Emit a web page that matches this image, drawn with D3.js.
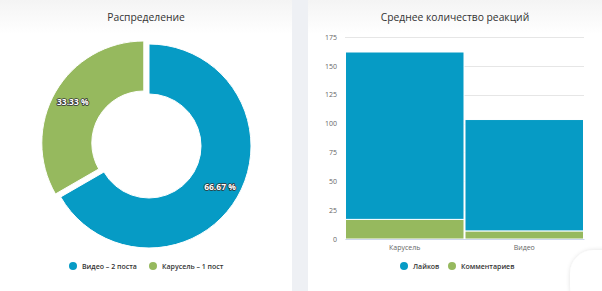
<!DOCTYPE html>
<html>
<head>
<meta charset="utf-8">
<script src="https://cdn.jsdelivr.net/npm/d3@7"></script>
<style>
  html, body { margin: 0; padding: 0; background: #eef0f4; }
  svg { display: block; font-family: "Open Sans", sans-serif; }
</style>
</head>
<body>
<div class="visualisation"></div>
<script>
var width = 602;
var height = 291;

// pie data
var pieNames = ["Видео – 2 поста", "Карусель – 1 пост"];
var pieValues = [66.67, 33.33];
var pieColors = ["#069bc5", "#96b95e"];

// bar data
var barCategories = ["Карусель", "Видео"];
var likes = [145, 96.5];
var comments = [17, 7];
var barSeries = ["Лайков", "Комментариев"];
var barTicks = [0, 25, 50, 75, 100, 125, 150, 175];

var svg = d3.select(".visualisation").append("svg")
    .attr("width", width)
    .attr("height", height);

var defs = svg.append("defs");
var grad = defs.append("linearGradient").attr("id", "hdr").attr("x1", 0).attr("y1", 0).attr("x2", 0).attr("y2", 1);
grad.append("stop").attr("offset", "0%").attr("stop-color", "#f4f4f4");
grad.append("stop").attr("offset", "100%").attr("stop-color", "#ffffff");
var shadow = defs.append("filter").attr("id", "sh").attr("x", "-50%").attr("y", "-50%").attr("width", "200%").attr("height", "200%");
shadow.append("feDropShadow").attr("dx", 0).attr("dy", 0).attr("stdDeviation", 2).attr("flood-color", "#000").attr("flood-opacity", 0.12);

// cards
svg.append("rect").attr("x", 0).attr("y", 0).attr("width", 292).attr("height", height).attr("fill", "#fff");
svg.append("rect").attr("x", 0).attr("y", 0).attr("width", 292).attr("height", 34).attr("fill", "url(#hdr)");
svg.append("rect").attr("x", 308).attr("y", 0).attr("width", 294).attr("height", height).attr("fill", "#fff");
svg.append("rect").attr("x", 308).attr("y", 0).attr("width", 294).attr("height", 34).attr("fill", "url(#hdr)");

// titles
svg.append("text").attr("x", 146).attr("y", 21).attr("text-anchor", "middle")
  .attr("font-size", 10.3).attr("fill", "#333").text("Распределение");
svg.append("text").attr("x", 455).attr("y", 21).attr("text-anchor", "middle")
  .attr("font-size", 10.3).attr("fill", "#333").text("Среднее количество реакций");

// donut
var cx = 149, cy = 146, outerR = 102, innerR = 52;
var pie = d3.pie().sort(null).value(function(d){ return d; });
var arcs = pie(pieValues);
var arc = d3.arc().innerRadius(innerR).outerRadius(outerR);
var slicedOffset = 6;

var donut = svg.append("g").attr("transform", "translate(" + cx + "," + cy + ")");
donut.selectAll("path").data(arcs).enter().append("path")
  .attr("d", arc)
  .attr("fill", function(d, i){ return pieColors[i]; })
  .attr("stroke", "#fff")
  .attr("stroke-width", 1)
  .attr("transform", function(d, i) {
    if (i !== 1) return null;
    var a = (d.startAngle + d.endAngle) / 2;
    return "translate(" + (Math.sin(a) * slicedOffset) + "," + (-Math.cos(a) * slicedOffset) + ")";
  });

donut.selectAll("text.lbl").data(arcs).enter().append("text")
  .attr("class", "lbl")
  .attr("x", function(d, i) {
    var a = (d.startAngle + d.endAngle) / 2;
    return Math.sin(a) * 82 + (i === 1 ? Math.sin(a) * slicedOffset : 0);
  })
  .attr("y", function(d, i) {
    var a = (d.startAngle + d.endAngle) / 2;
    return -Math.cos(a) * 82 + (i === 1 ? -Math.cos(a) * slicedOffset : 0) + 3;
  })
  .attr("text-anchor", "middle")
  .attr("font-size", 8.5)
  .attr("font-weight", "bold")
  .attr("fill", "#fff")
  .attr("stroke", "#333")
  .attr("stroke-width", 1.6)
  .attr("paint-order", "stroke")
  .attr("stroke-linejoin", "round")
  .text(function(d){ return d.data.toFixed(2) + " %"; });

// pie legend
var pieLegX = [73, 153];
var pieLeg = svg.append("g");
pieLeg.selectAll("circle").data(pieNames).enter().append("circle")
  .attr("cx", function(d, i){ return pieLegX[i]; })
  .attr("cy", 266).attr("r", 4)
  .attr("fill", function(d, i){ return pieColors[i]; });
pieLeg.selectAll("text").data(pieNames).enter().append("text")
  .attr("x", function(d, i){ return pieLegX[i] + 9; })
  .attr("y", 268.5)
  .attr("font-size", 7).attr("font-weight", 600).attr("fill", "#333")
  .text(function(d){ return d; });

// bar chart
var x = d3.scaleBand().domain(barCategories).range([345, 584]).padding(0);
var y = d3.scaleLinear().domain([0, 175]).range([239, 37]);

var grid = svg.append("g");
grid.selectAll("line").data(barTicks).enter().append("line")
  .attr("x1", 345).attr("x2", 584)
  .attr("y1", function(d){ return Math.round(y(d)) + 0.5; })
  .attr("y2", function(d){ return Math.round(y(d)) + 0.5; })
  .attr("stroke", "#e6e6e6").attr("stroke-width", 1);

var yAxis = svg.append("g").attr("transform", "translate(340,0)")
  .call(d3.axisLeft(y).tickValues(barTicks).tickSize(0).tickPadding(3));
yAxis.select(".domain").remove();
yAxis.selectAll("text").attr("font-size", 7).attr("fill", "#666").attr("font-family", "Open Sans, sans-serif");

var stackData = barCategories.map(function(c, i){ return { cat: c, comments: comments[i], likes: likes[i] }; });
var stack = d3.stack().keys(["comments", "likes"])(stackData);
var barColors = { likes: "#069bc5", comments: "#96b95e" };

svg.append("g").selectAll("g").data(stack).enter().append("g")
  .attr("fill", function(s){ return barColors[s.key]; })
  .selectAll("rect").data(function(s){ return s; }).enter().append("rect")
  .attr("x", function(d){ return x(d.data.cat) + 0.5; })
  .attr("width", x.bandwidth() - 1)
  .attr("y", function(d){ return y(d[1]); })
  .attr("height", function(d){ return y(d[0]) - y(d[1]); })
  .attr("stroke", "#fff")
  .attr("stroke-width", 1);

var xAxis = svg.append("g").attr("transform", "translate(0,239)")
  .call(d3.axisBottom(x).tickSize(0).tickPadding(6));
xAxis.select(".domain").attr("stroke", "#ccd6eb");
xAxis.selectAll("text").attr("font-size", 7).attr("fill", "#666").attr("font-family", "Open Sans, sans-serif");

// bar legend
var barLegX = [404, 452];
var barLegColors = ["#069bc5", "#96b95e"];
var barLeg = svg.append("g");
barLeg.selectAll("circle").data(barSeries).enter().append("circle")
  .attr("cx", function(d, i){ return barLegX[i]; })
  .attr("cy", 266).attr("r", 4)
  .attr("fill", function(d, i){ return barLegColors[i]; });
barLeg.selectAll("text").data(barSeries).enter().append("text")
  .attr("x", function(d, i){ return barLegX[i] + 9; })
  .attr("y", 268.5)
  .attr("font-size", 7).attr("font-weight", 600).attr("fill", "#333")
  .text(function(d){ return d; });

// chat bubble in the corner
svg.append("rect").attr("x", 570).attr("y", 250).attr("width", 60).attr("height", 60).attr("rx", 24)
  .attr("fill", "#fff").attr("filter", "url(#sh)");
</script>
</body>
</html>
